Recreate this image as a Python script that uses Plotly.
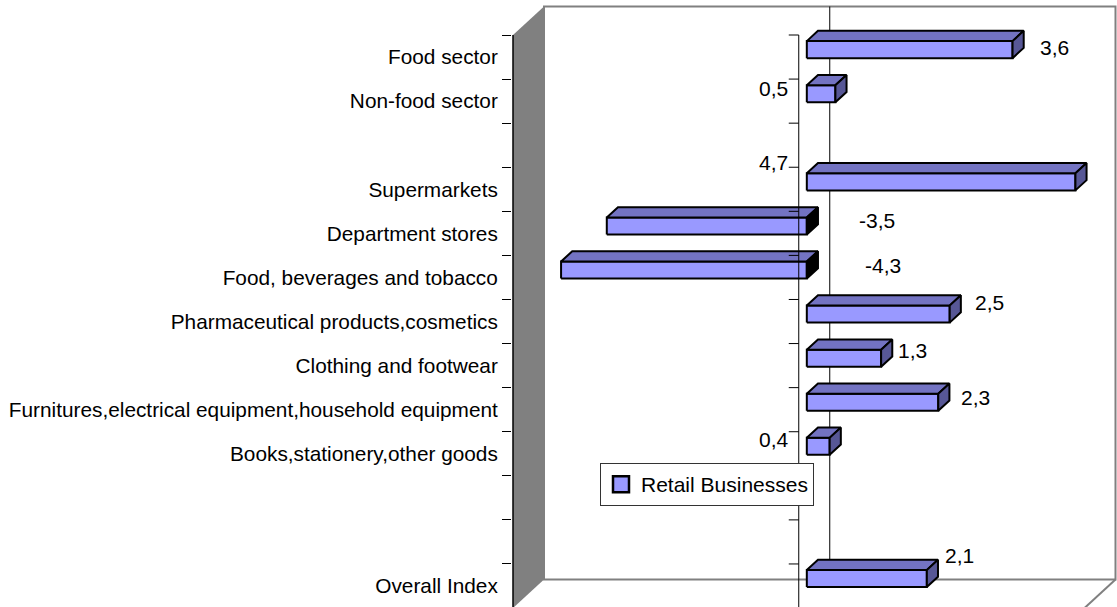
import plotly.graph_objects as go

# ---------------- data ----------------
categories = [
    "Food sector", "Non-food sector", "", "Supermarkets", "Department stores",
    "Food, beverages and tobacco", "Pharmaceutical products,cosmetics",
    "Clothing and footwear", "Furnitures,electrical equipment,household equipment",
    "Books,stationery,other goods", "", "", "Overall Index",
]
values = [3.6, 0.5, None, 4.7, -3.5, -4.3, 2.5, 1.3, 2.3, 0.4, None, None, 2.1]
series_name = "Retail Businesses"
value_min, value_max = -5, 5

# ---------------- geometry / style ----------------
W, H = 1117, 607
PLOT_LEFT_PX = 512
UNIT_PX = 57.15
ZERO_PX = 513 - value_min * UNIT_PX
SLOT_PX = 44.08
TOP_PX = 35
DEPTH_X_PX, DEPTH_Y_PX = 31, 28.5
BAR_FRONT, BAR_BACK = 0.26, 0.62
BAR_HALF = 0.193
FONT = "Arial, Liberation Sans, sans-serif"
FRONT_C, TOP_C, SIDE_C = "#9999FF", "#7373C2", "#575796"
WALL_C = "#808080"

# label placement: (anchor, dx px, dy px) -- anchor "end" = bar end, "zero" = value axis
LABEL_PLACEMENT = [("end", 42, -10), ("zero", -25, -13), None, ("zero", -25, -27),
                   ("zero", 78, -13), ("zero", 84, -12), ("end", 40, -19),
                   ("end", 31, -15), ("end", 37, -12), ("zero", -25, -14),
                   None, None, ("end", 33, -31)]

xr = [(PLOT_LEFT_PX - ZERO_PX) / UNIT_PX, (W - ZERO_PX) / UNIT_PX]
yr = [(H - TOP_PX) / SLOT_PX - 0.5, (0 - TOP_PX) / SLOT_PX - 0.5]
DX = DEPTH_X_PX / UNIT_PX
DY = -DEPTH_Y_PX / SLOT_PX
n = len(categories)
y_top, y_bot = -0.5, n - 0.5

fig = go.Figure()

# ---------------- bars (3D boxes) ----------------
fx, fy, tx, ty, sx, sy, nx, ny = [], [], [], [], [], [], [], []
ddx, ddy = (BAR_BACK - BAR_FRONT) * DX, (BAR_BACK - BAR_FRONT) * DY
for k, v in enumerate(values):
    if v is None:
        continue
    x0, yc = BAR_FRONT * DX, k + BAR_FRONT * DY
    xa, xb = min(x0, x0 + v), max(x0, x0 + v)
    yt, yb = yc - BAR_HALF, yc + BAR_HALF
    fx += [xa, xb, xb, xa, xa, None]; fy += [yb, yb, yt, yt, yb, None]
    tx += [xa, xb, xb + ddx, xa + ddx, xa, None]; ty += [yt, yt, yt + ddy, yt + ddy, yt, None]
    side_x = [xb, xb + ddx, xb + ddx, xb, xb, None]
    side_y = [yb, yb + ddy, yt + ddy, yt, yb, None]
    if v >= 0:
        sx += side_x; sy += side_y
    else:
        nx += side_x; ny += side_y

for xs, ys, col in [(fx, fy, FRONT_C), (tx, ty, TOP_C), (sx, sy, SIDE_C), (nx, ny, "#000000")]:
    fig.add_trace(go.Scatter(x=xs, y=ys, mode="lines", fill="toself", fillcolor=col,
                             line=dict(color="black", width=2), showlegend=False,
                             hoverinfo="skip"))

# legend entry
fig.add_trace(go.Scatter(x=[None], y=[None], mode="markers", name=series_name,
                         marker=dict(symbol="square", size=16, color=FRONT_C,
                                     line=dict(color="black", width=2.5))))

# ---------------- walls / axes ----------------
shapes = []
shapes.append(dict(type="rect", xref="x", yref="y", layer="below",
                   x0=value_min + DX, x1=value_max + DX, y0=y_top + DY, y1=y_bot + DY,
                   fillcolor="white", line=dict(color=WALL_C, width=2)))
shapes.append(dict(type="path", xref="x", yref="y", layer="below",
                   path=f"M{value_min},{y_top} L{value_min + DX},{y_top + DY} "
                        f"L{value_min + DX},{y_bot + DY} L{value_min},{y_bot} Z",
                   fillcolor=WALL_C, line=dict(width=0)))
shapes.append(dict(type="line", xref="x", yref="y", layer="below",
                   x0=value_max, y0=y_bot, x1=value_max + DX, y1=y_bot + DY,
                   line=dict(color=WALL_C, width=2)))
shapes.append(dict(type="line", xref="x", yref="y", layer="below",
                   x0=DX, y0=y_top + DY, x1=DX, y1=y_bot + DY,
                   line=dict(color="black", width=1)))
shapes.append(dict(type="line", xref="x", yref="y", layer="above",
                   x0=0, y0=y_top, x1=0, y1=y_bot, line=dict(color="black", width=1)))
for k in range(n + 1):
    b = k - 0.5
    shapes.append(dict(type="line", xref="x", yref="y", layer="above",
                       x0=-10 / UNIT_PX, y0=b, x1=0, y1=b, line=dict(color="black", width=1)))
shapes.append(dict(type="line", xref="x", yref="y", layer="above",
                   x0=value_min, y0=y_top, x1=value_min, y1=y_bot,
                   line=dict(color="black", width=1.5)))

# ---------------- data labels ----------------
annotations = []
for k, (v, pl) in enumerate(zip(values, LABEL_PLACEMENT)):
    if v is None or pl is None:
        continue
    anchor, dxp, dyp = pl
    ax = BAR_FRONT * DX + v if anchor == "end" else 0
    annotations.append(dict(x=ax, y=k, xref="x", yref="y", showarrow=False,
                            text=f"{v:.1f}".replace(".", ","), xshift=dxp, yshift=-dyp,
                            font=dict(family=FONT, size=21, color="black")))

fig.update_layout(
    width=W, height=H,
    margin=dict(l=PLOT_LEFT_PX, r=0, t=0, b=0),
    paper_bgcolor="white", plot_bgcolor="white",
    shapes=shapes, annotations=annotations,
    font=dict(family=FONT, size=21, color="black"),
    xaxis=dict(range=xr, showgrid=False, zeroline=False, showticklabels=False,
               ticks="", showline=False, fixedrange=True),
    yaxis=dict(range=yr, showgrid=False, zeroline=False, showline=False,
               tickmode="array", tickvals=list(range(n)), ticktext=categories,
               ticks="outside", ticklen=9, tickcolor="rgba(0,0,0,0)",
               tickfont=dict(family=FONT, size=20.8, color="black"),
               minor=dict(tickmode="array", tickvals=[k - 0.5 for k in range(n + 1)],
                          ticks="outside", ticklen=9, tickcolor="black", tickwidth=1),
               fixedrange=True),
    legend=dict(x=(600 - PLOT_LEFT_PX) / (W - PLOT_LEFT_PX), y=1 - 463 / H,
                xanchor="left", yanchor="top", bgcolor="white",
                bordercolor="#333333", borderwidth=1,
                font=dict(family=FONT, size=21, color="black")),
    showlegend=True,
)

fig.write_html("out.html")
